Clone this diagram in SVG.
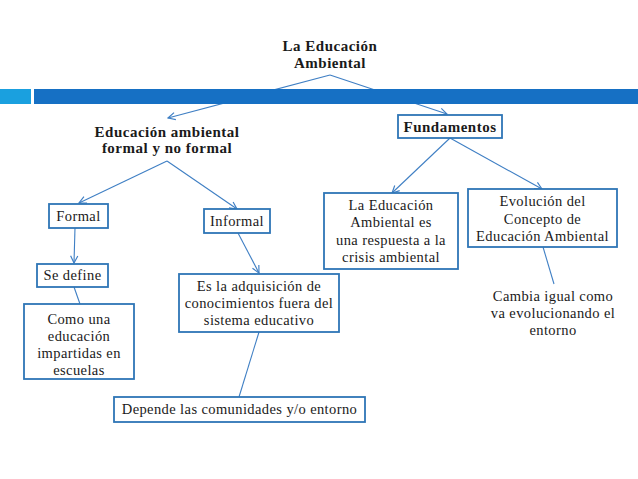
<svg xmlns="http://www.w3.org/2000/svg" width="638" height="479" viewBox="0 0 638 479">
<defs>
<style>
.t{font-family:"Liberation Serif","Times New Roman",serif;font-size:14.5px;letter-spacing:0.4px;fill:#1a1a1a;text-anchor:middle}
.b{font-weight:bold;font-size:15px;letter-spacing:0.5px}
.box{fill:#fff;stroke:#2e75b6;stroke-width:1.8}
.ln{stroke:#3f7fc4;stroke-width:1.1;fill:none}
</style>
<marker id="ar" viewBox="0 0 10 10" refX="9" refY="5" markerWidth="9" markerHeight="9" markerUnits="userSpaceOnUse" orient="auto">
<path d="M1,1 L9,5 L1,9" fill="none" stroke="#3f7fc4" stroke-width="1.3"/>
</marker>
</defs>
<rect width="638" height="479" fill="#fff"/>
<g id="connectors">
<path class="ln" d="M330,75 L168,118" marker-end="url(#ar)"/>
<path class="ln" d="M330,75 L447,114" marker-end="url(#ar)"/>
<path class="ln" d="M167,161 L79,203" marker-end="url(#ar)"/>
<path class="ln" d="M167,161 L237,209" marker-end="url(#ar)"/>
<path class="ln" d="M75,228 L74,263" marker-end="url(#ar)"/>
<path class="ln" d="M74,287 L80,304"/>
<path class="ln" d="M238,233 L259,273" marker-end="url(#ar)"/>
<path class="ln" d="M259,332 L239,397"/>
<path class="ln" d="M450,138 L392,193" marker-end="url(#ar)"/>
<path class="ln" d="M450,138 L542,189" marker-end="url(#ar)"/>
<path class="ln" d="M543,247 L554,284"/>
</g>
<g id="bar">
<rect x="0" y="89" width="31" height="15" fill="#1aa0df"/>
<rect x="34" y="89" width="604" height="15" fill="#1670c4"/>
</g>
<g id="title">
<text class="t b" x="330" y="51">La Educación</text>
<text class="t b" x="330" y="68">Ambiental</text>
</g>
<g id="ea">
<text class="t b" x="167" y="137">Educación ambiental</text>
<text class="t b" x="167" y="153">formal y no formal</text>
</g>
<g id="fundamentos">
<rect class="box" x="398" y="115" width="104" height="23"/>
<text class="t b" x="450" y="132">Fundamentos</text>
</g>
<g id="formal">
<rect class="box" x="49" y="204" width="59" height="24"/>
<text class="t" x="78.500" y="221">Formal</text>
</g>
<g id="informal">
<rect class="box" x="204" y="209" width="66" height="24"/>
<text class="t" x="237" y="226">Informal</text>
</g>
<g id="sedefine">
<rect class="box" x="37" y="264" width="71" height="23"/>
<text class="t" x="72.500" y="280">Se define</text>
</g>
<g id="comouna">
<rect class="box" x="24" y="304" width="110" height="75"/>
<text class="t" x="79" y="324">Como una</text>
<text class="t" x="79" y="341">educación</text>
<text class="t" x="79" y="358">impartidas en</text>
<text class="t" x="79" y="375">escuelas</text>
</g>
<g id="esla">
<rect class="box" x="179" y="274" width="160" height="58"/>
<text class="t" x="259" y="291">Es la adquisición de</text>
<text class="t" x="259" y="308">conocimientos fuera del</text>
<text class="t" x="259" y="325">sistema educativo</text>
</g>
<g id="depende">
<rect class="box" x="114" y="397" width="251" height="25"/>
<text class="t" x="239.500" y="414">Depende las comunidades y/o entorno</text>
</g>
<g id="laedu">
<rect class="box" x="324" y="193" width="134" height="76"/>
<text class="t" x="391" y="210">La Educación</text>
<text class="t" x="391" y="227">Ambiental es</text>
<text class="t" x="391" y="245">una respuesta a la</text>
<text class="t" x="391" y="262">crisis ambiental</text>
</g>
<g id="evolucion">
<rect class="box" x="468" y="189" width="149" height="58"/>
<text class="t" x="542.500" y="206">Evolución del</text>
<text class="t" x="542.500" y="224">Concepto de</text>
<text class="t" x="542.500" y="241">Educación Ambiental</text>
</g>
<g id="cambia">
<text class="t" x="553" y="301">Cambia igual como</text>
<text class="t" x="553" y="318">va evolucionando el</text>
<text class="t" x="553" y="335">entorno</text>
</g>
</svg>
